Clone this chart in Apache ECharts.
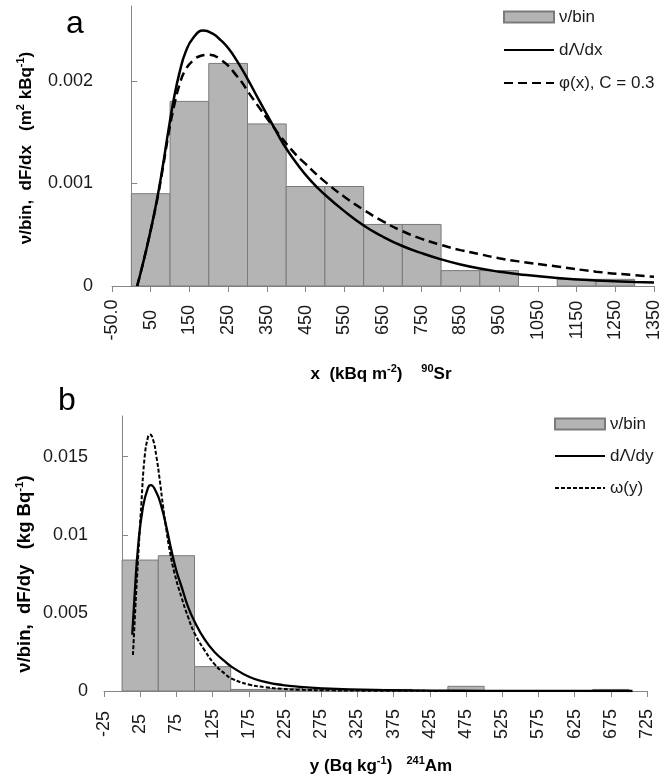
<!DOCTYPE html>
<html>
<head>
<meta charset="utf-8">
<script src="https://cdn.jsdelivr.net/npm/echarts@6/dist/echarts.min.js"></script>
<style>
html,body{margin:0;padding:0;background:#fff;}
#chart{width:672px;height:778px;}
</style>
</head>
<body>
<div id="chart"></div>
<script>
// ---------- Panel a (90Sr) ----------
const binStartA = [0, 100, 200, 300, 400, 500, 600, 700, 800, 900, 1000, 1100, 1200];
const binWidthA = 100;
const nuBinA = [0.0009, 0.0018, 0.00217, 0.00158, 0.00097, 0.00097, 0.0006, 0.0006, 0.00015, 0.00015, 0, 0.000065, 0.000065];

const xSolidA = [15, 30, 45, 65, 80, 95, 110, 125, 140, 160, 186, 210, 230, 250, 272, 300, 330, 365, 395, 430, 465, 500, 550, 600, 650, 700, 750, 800, 850, 900, 950, 1000, 1100, 1200, 1300, 1350];
const ySolidA = [0, 0.00022, 0.00046, 0.00082, 0.00114, 0.0015, 0.00183, 0.00209, 0.00228, 0.00242, 0.00249, 0.00246, 0.0024, 0.00232, 0.0022, 0.00202, 0.00181, 0.00157, 0.00137, 0.00118, 0.00102, 0.00089, 0.00073, 0.00059, 0.00048, 0.00039, 0.00032, 0.00026, 0.00021, 0.00017, 0.00014, 0.000115, 0.000078, 0.000054, 0.000039, 0.000033];

const xDashA = [15, 30, 45, 65, 80, 95, 110, 125, 140, 160, 180, 197, 230, 272, 315, 367, 418, 450, 496, 550, 597, 650, 697, 750, 800, 850, 900, 950, 1000, 1100, 1200, 1300, 1350];
const yDashA = [0, 0.00022, 0.00046, 0.00081, 0.00112, 0.00146, 0.00175, 0.00197, 0.00211, 0.0022, 0.002245, 0.002254, 0.00221, 0.00205, 0.00182, 0.00155, 0.00131, 0.00119, 0.00103, 0.00087, 0.00075, 0.00063, 0.00054, 0.00046, 0.0004, 0.00035, 0.00031, 0.00027, 0.00024, 0.00019, 0.00014, 0.000105, 0.00009];

const xTicksA = [-50, 50, 150, 250, 350, 450, 550, 650, 750, 850, 950, 1050, 1150, 1250, 1350];
const xTickLabelsA = ['-50.0', '50', '150', '250', '350', '450', '550', '650', '750', '850', '950', '1050', '1150', '1250', '1350'];
const yTicksA = [0, 0.001, 0.002];
const yTickLabelsA = ['0', '0.001', '0.002'];

// ---------- Panel b (241Am) ----------
const binStartB = [0, 50, 100, 150, 200, 250, 300, 350, 400, 450, 500, 550, 600, 650];
const binWidthB = 50;
const nuBinB = [0.00838, 0.00866, 0.00156, 0.0001, 0.00015, 0.0001, 0.00005, 0.0001, 0, 0.0003, 0, 0, 0, 0.0001];

const xSolidB = [14, 17.4, 22, 28.9, 35.8, 39.5, 47.4, 54.3, 61.2, 68.1, 75, 82, 91, 100, 114, 128, 142, 151, 176, 199, 222, 245, 277, 314, 361, 430, 500, 600, 705];
const ySolidB = [0.0036, 0.0062, 0.0092, 0.0118, 0.013, 0.01317, 0.0127, 0.0118, 0.0105, 0.009, 0.0077, 0.0067, 0.0054, 0.00445, 0.0033, 0.00248, 0.0019, 0.00156, 0.0009, 0.00057, 0.00038, 0.00027, 0.00017, 0.0001, 0.00006, 0.00003, 0.00001, 0.000005, 0];

const xDashB = [15, 18.4, 22, 26.6, 31.2, 35.8, 38.5, 42.7, 47.4, 52, 56.6, 61.2, 65.7, 72.6, 82, 91, 100, 114, 128, 142, 151, 176, 199, 222, 245, 291, 350, 450, 550];
const yDashB = [0.0023, 0.0054, 0.0084, 0.012, 0.015, 0.01625, 0.01642, 0.0161, 0.015, 0.0135, 0.0118, 0.0103, 0.009, 0.0075, 0.006, 0.00475, 0.0037, 0.0026, 0.0017, 0.0011, 0.0008, 0.0004, 0.00024, 0.00013, 0.00008, 0.00004, 0.00002, 0.000005, 0];

const xTicksB = [-25, 25, 75, 125, 175, 225, 275, 325, 375, 425, 475, 525, 575, 625, 675, 725];
const xTickLabelsB = ['-25', '25', '75', '125', '175', '225', '275', '325', '375', '425', '475', '525', '575', '625', '675', '725'];
const yTicksB = [0, 0.005, 0.01, 0.015];
const yTickLabelsB = ['0', '0.005', '0.01', '0.015'];

// ---------- chart ----------
const FONT = 'Liberation Sans';
const AX = '#868686';
const TXT = '#1a1a1a';

function pairs(xs, ys) { return xs.map((x, i) => [x, ys[i]]); }
function bins(starts, w, vals) { return starts.map((s, i) => [s, s + w, vals[i]]); }
function labelFrom(ticks, labels) {
  return function (v) {
    for (let i = 0; i < ticks.length; i++) { if (Math.abs(ticks[i] - v) < 1e-9) return labels[i]; }
    return '';
  };
}
function renderBin(params, api) {
  const x0 = api.value(0), x1 = api.value(1), v = api.value(2);
  if (!v) return null;
  const p0 = api.coord([x0, v]);
  const p1 = api.coord([x1, 0]);
  return {
    type: 'rect',
    shape: { x: p0[0], y: p0[1], width: p1[0] - p0[0], height: p1[1] - p0[1] },
    style: api.style()
  };
}

function xAxisCfg(gi, min, max, interval, ticks, labels, margin) {
  return {
    gridIndex: gi, type: 'value', min: min, max: max, interval: interval,
    axisLine: { show: true, onZero: true, lineStyle: { color: AX, width: 1 } },
    axisTick: { show: true, inside: false, length: 6, customValues: ticks, lineStyle: { color: AX } },
    axisLabel: {
      customValues: ticks, formatter: labelFrom(ticks, labels), rotate: 90,
      align: 'center', verticalAlign: 'middle', margin: margin,
      fontSize: 18, fontFamily: FONT, color: TXT
    },
    splitLine: { show: false }
  };
}
function yAxisCfg(gi, max, ticks, labels, margin) {
  return {
    gridIndex: gi, type: 'value', min: 0, max: max,
    axisLine: { show: true, lineStyle: { color: AX, width: 1 } },
    axisTick: { show: true, inside: true, length: 6, customValues: ticks, lineStyle: { color: AX } },
    axisLabel: {
      customValues: ticks, formatter: labelFrom(ticks, labels), margin: margin,
      fontSize: 18, fontFamily: FONT, color: TXT
    },
    splitLine: { show: false }
  };
}

const lineLegendItem = function (name) { return { name: name, itemStyle: { opacity: 0 } }; };
const titleRich = {
  n: { fontSize: 17, fontWeight: 'bold', fontFamily: FONT, color: TXT, lineHeight: 20, verticalAlign: 'bottom' },
  s: { fontSize: 11, fontWeight: 'bold', fontFamily: FONT, color: TXT, lineHeight: 20, verticalAlign: 'top' }
};
const titleRichB = {
  n: { fontSize: 18.5, fontWeight: 'bold', fontFamily: FONT, color: TXT, lineHeight: 20, verticalAlign: 'bottom' },
  s: { fontSize: 11.5, fontWeight: 'bold', fontFamily: FONT, color: TXT, lineHeight: 20, verticalAlign: 'top' }
};

const chart = echarts.init(document.getElementById('chart'), null, { renderer: 'canvas' });
const option = {
  animation: false,
  backgroundColor: '#ffffff',
  textStyle: { fontFamily: FONT },
  grid: [
    { left: 112, right: 18, top: 6, bottom: 492 },
    { left: 104, right: 25, top: 416, bottom: 87 }
  ],
  xAxis: [
    xAxisCfg(0, -50, 1350, 100, xTicksA, xTickLabelsA, 34),
    xAxisCfg(1, -25, 725, 50, xTicksB, xTickLabelsB, 33)
  ],
  yAxis: [
    yAxisCfg(0, 0.00273, yTicksA, yTickLabelsA, 19),
    yAxisCfg(1, 0.0176, yTicksB, yTickLabelsB, 16)
  ],
  legend: [
    {
      orient: 'vertical', left: 498, top: 3, itemWidth: 50, itemHeight: 11, itemGap: 15,
      textStyle: { fontSize: 17, fontFamily: FONT, color: TXT, lineHeight: 18 },
      data: [{ name: 'ν/bin', icon: 'rect' }, lineLegendItem('dΛ/dx'), lineLegendItem('φ(x), C = 0.3')]
    },
    {
      orient: 'vertical', left: 549, top: 410, itemWidth: 50, itemHeight: 11, itemGap: 14,
      textStyle: { fontSize: 17, fontFamily: FONT, color: TXT, lineHeight: 18 },
      data: [{ name: 'ν/bin', icon: 'rect' }, lineLegendItem('dΛ/dy'), lineLegendItem('ω(y)')]
    }
  ],
  series: [
    {
      type: 'custom', name: 'ν/bin', xAxisIndex: 0, yAxisIndex: 0,
      renderItem: renderBin, data: bins(binStartA, binWidthA, nuBinA),
      encode: { x: [0, 1], y: 2 },
      itemStyle: { color: '#b4b4b4', borderColor: '#7a7a7a', borderWidth: 1 }, z: 1
    },
    {
      type: 'line', name: 'dΛ/dx', xAxisIndex: 0, yAxisIndex: 0,
      data: pairs(xSolidA, ySolidA), symbol: 'none', smooth: 0.5,
      lineStyle: { color: '#000', width: 2.5 }, itemStyle: { color: '#000' }, z: 3
    },
    {
      type: 'line', name: 'φ(x), C = 0.3', xAxisIndex: 0, yAxisIndex: 0,
      data: pairs(xDashA, yDashA), symbol: 'none', smooth: 0.5,
      lineStyle: { color: '#000', width: 2.5, type: [9, 5] }, itemStyle: { color: '#000' }, z: 3
    },
    {
      type: 'custom', name: 'ν/bin', xAxisIndex: 1, yAxisIndex: 1,
      renderItem: renderBin, data: bins(binStartB, binWidthB, nuBinB),
      encode: { x: [0, 1], y: 2 },
      itemStyle: { color: '#b4b4b4', borderColor: '#7a7a7a', borderWidth: 1 }, z: 1
    },
    {
      type: 'line', name: 'dΛ/dy', xAxisIndex: 1, yAxisIndex: 1,
      data: pairs(xSolidB, ySolidB), symbol: 'none', smooth: 0.5,
      lineStyle: { color: '#000', width: 2.3 }, itemStyle: { color: '#000' }, z: 3
    },
    {
      type: 'line', name: 'ω(y)', xAxisIndex: 1, yAxisIndex: 1,
      data: pairs(xDashB, yDashB), symbol: 'none', smooth: 0.5,
      lineStyle: { color: '#000', width: 2, type: [4, 2] }, itemStyle: { color: '#000' }, z: 3
    }
  ],
  graphic: [
    { type: 'text', x: 75, y: 24, style: { text: 'a', fontSize: 32, fontFamily: FONT, fill: '#000', align: 'center', verticalAlign: 'middle' } },
    { type: 'text', x: 67, y: 401, style: { text: 'b', fontSize: 32, fontFamily: FONT, fill: '#000', align: 'center', verticalAlign: 'middle' } },
    { type: 'text', x: 25, y: 148, rotation: Math.PI / 2, style: { text: '{n|ν/bin,  dF/dx   (m}{s|2}{n| kBq}{s|-1}{n|)}', rich: titleRich, align: 'center', verticalAlign: 'middle' } },
    { type: 'text', x: 24, y: 574, rotation: Math.PI / 2, style: { text: '{n|ν/bin,  dF/dy   (kg Bq}{s|-1}{n|)}', rich: titleRichB, align: 'center', verticalAlign: 'middle' } },
    { type: 'text', x: 381, y: 373, style: { text: '{n|x  (kBq m}{s|-2}{n|)    }{s|90}{n|Sr}', rich: titleRich, align: 'center', verticalAlign: 'middle' } },
    { type: 'text', x: 381, y: 765, style: { text: '{n|y (Bq kg}{s|-1}{n|)   }{s|241}{n|Am}', rich: titleRich, align: 'center', verticalAlign: 'middle' } }
  ]
};
chart.setOption(option);
</script>
</body>
</html>
